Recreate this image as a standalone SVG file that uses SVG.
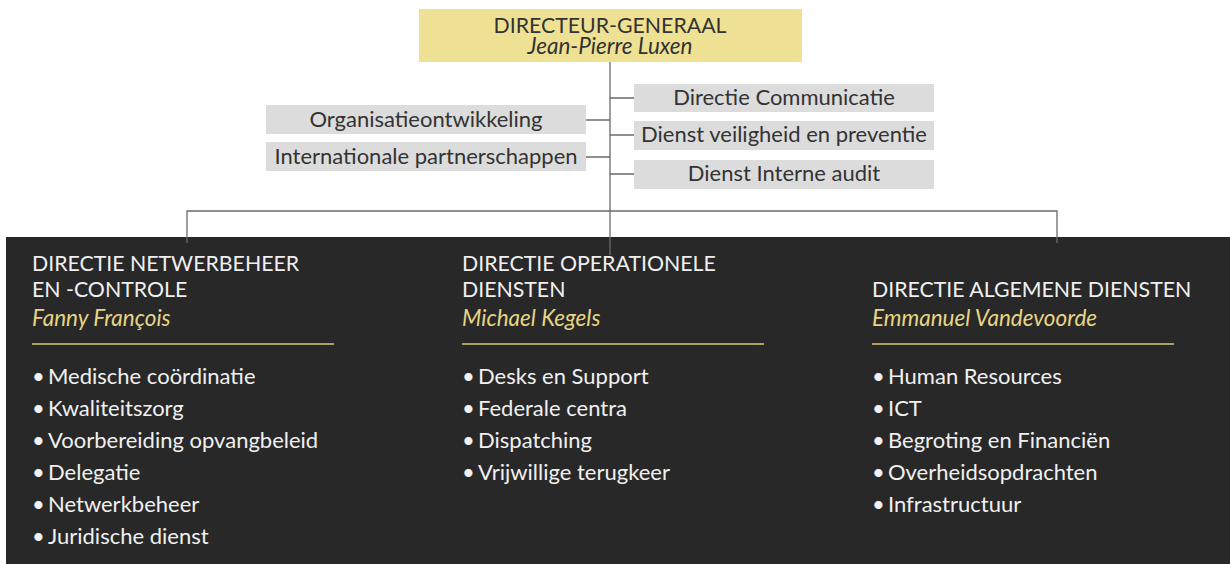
<svg xmlns="http://www.w3.org/2000/svg" width="1230" height="564" viewBox="0 0 1230 564">
<style>
text{font-family:Lato,"Noto Sans","Liberation Sans",sans-serif;font-size:22px}
.up{font-size:21.3px}
.dk{fill:#333333}
.c{text-anchor:middle}
.it{font-style:italic;font-size:22.5px}
.wh{fill:#f0f0f0}
.gd{fill:#e6d584}
.gb{fill:#dcdcdc}
.ln{stroke:#6b6b6b;stroke-width:1.3;fill:none}
.gl{stroke:#d8c874;stroke-width:1.5}
</style>
<rect x="6" y="237" width="1224" height="327" fill="#282828"/>
<g id="connectors">
<path class="ln" d="M610 62V255"/>
<path class="ln" d="M610 98H634M610 135H634M610 174H634"/>
<path class="ln" d="M586 120H610M586 157H610"/>
<path class="ln" d="M187 243V211H1057V243"/>
</g>
<g id="dg">
<rect x="419" y="9" width="383" height="53" fill="#efe193"/>
<text class="dk c up" x="610" y="33">DIRECTEUR-GENERAAL</text>
<text class="dk c it" x="610" y="54">Jean-Pierre Luxen</text>
</g>
<g id="comm"><rect class="gb" x="634" y="84" width="300" height="28"/><text class="dk c" x="784" y="105">Directie Communicatie</text></g>
<g id="veil"><rect class="gb" x="634" y="121" width="300" height="29"/><text class="dk c" x="784" y="142">Dienst veiligheid en preventie</text></g>
<g id="audit"><rect class="gb" x="634" y="160" width="300" height="29"/><text class="dk c" x="784" y="181">Dienst Interne audit</text></g>
<g id="org"><rect class="gb" x="266" y="105" width="320" height="29"/><text class="dk c" x="426" y="127">Organisatieontwikkeling</text></g>
<g id="intl"><rect class="gb" x="266" y="142" width="320" height="29"/><text class="dk c" x="426" y="164">Internationale partnerschappen</text></g>
<g id="netwerk">
<text class="wh up" x="32" y="271">DIRECTIE NETWERBEHEER</text>
<text class="wh up" x="32" y="297">EN -CONTROLE</text>
<text class="gd it" x="32" y="326">Fanny François</text>
<line class="gl" x1="32" y1="344" x2="334" y2="344"/>
<text class="wh" x="32" y="384">•<tspan x="48">Medische coördinatie</tspan></text>
<text class="wh" x="32" y="416">•<tspan x="48">Kwaliteitszorg</tspan></text>
<text class="wh" x="32" y="448">•<tspan x="48">Voorbereiding opvangbeleid</tspan></text>
<text class="wh" x="32" y="480">•<tspan x="48">Delegatie</tspan></text>
<text class="wh" x="32" y="512">•<tspan x="48">Netwerkbeheer</tspan></text>
<text class="wh" x="32" y="544">•<tspan x="48">Juridische dienst</tspan></text>
</g>
<g id="operationeel">
<text class="wh up" x="462" y="271">DIRECTIE OPERATIONELE</text>
<text class="wh up" x="462" y="297">DIENSTEN</text>
<text class="gd it" x="462" y="326">Michael Kegels</text>
<line class="gl" x1="462" y1="344" x2="764" y2="344"/>
<text class="wh" x="462" y="384">•<tspan x="478">Desks en Support</tspan></text>
<text class="wh" x="462" y="416">•<tspan x="478">Federale centra</tspan></text>
<text class="wh" x="462" y="448">•<tspan x="478">Dispatching</tspan></text>
<text class="wh" x="462" y="480">•<tspan x="478">Vrijwillige terugkeer</tspan></text>
</g>
<g id="algemeen">
<text class="wh up" x="872" y="297">DIRECTIE ALGEMENE DIENSTEN</text>
<text class="gd it" x="872" y="326">Emmanuel Vandevoorde</text>
<line class="gl" x1="872" y1="344" x2="1174" y2="344"/>
<text class="wh" x="872" y="384">•<tspan x="888">Human Resources</tspan></text>
<text class="wh" x="872" y="416">•<tspan x="888">ICT</tspan></text>
<text class="wh" x="872" y="448">•<tspan x="888">Begroting en Financiën</tspan></text>
<text class="wh" x="872" y="480">•<tspan x="888">Overheidsopdrachten</tspan></text>
<text class="wh" x="872" y="512">•<tspan x="888">Infrastructuur</tspan></text>
</g>
</svg>
